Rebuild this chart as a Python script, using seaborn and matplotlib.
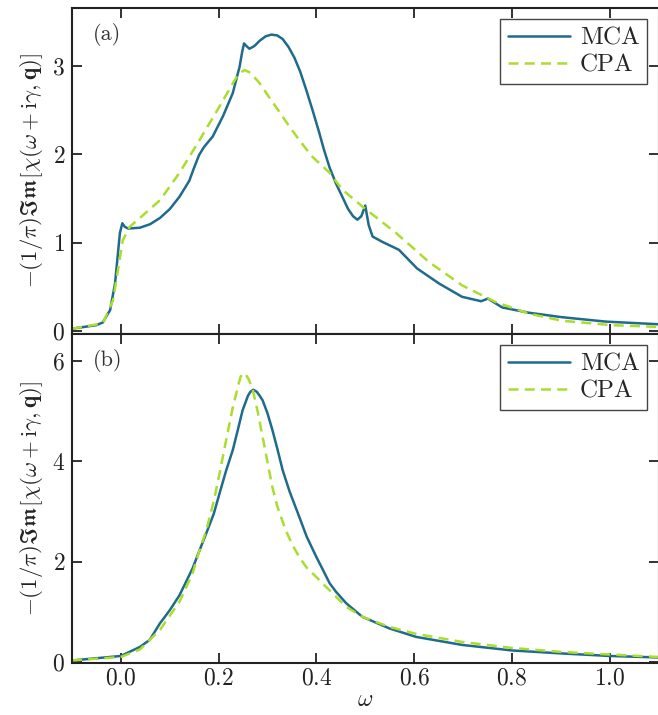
import numpy as np
import pandas as pd
import matplotlib
matplotlib.use("Agg")
import matplotlib.pyplot as plt
import seaborn as sns

# ---- data ----
omega_a_mca = [-0.1, -0.05, -0.037, -0.022, -0.012, -0.006, -0.002, 0.003, 0.008, 0.015, 0.039,
               0.06, 0.08, 0.1, 0.12, 0.14, 0.15, 0.16, 0.17, 0.188, 0.209, 0.229, 0.243, 0.248,
               0.252, 0.257, 0.263, 0.273, 0.284, 0.296, 0.308, 0.32, 0.331, 0.343, 0.355,
               0.367, 0.379, 0.392, 0.406, 0.415, 0.427, 0.44, 0.453, 0.465, 0.475, 0.484,
               0.492, 0.5, 0.507, 0.515, 0.535, 0.569, 0.606, 0.651, 0.698, 0.737, 0.751,
               0.78, 0.835, 0.902, 0.992, 1.1]
chi_a_mca = [0.03, 0.07, 0.10, 0.24, 0.54, 0.88, 1.11, 1.22, 1.18, 1.16, 1.17,
             1.21, 1.28, 1.38, 1.52, 1.70, 1.85, 1.99, 2.08, 2.2, 2.43, 2.69, 2.99, 3.15,
             3.25, 3.22, 3.19, 3.22, 3.28, 3.33, 3.35, 3.34, 3.30, 3.21, 3.09,
             2.93, 2.73, 2.50, 2.24, 2.06, 1.85, 1.67, 1.52, 1.38, 1.30, 1.26,
             1.30, 1.42, 1.20, 1.07, 1.01, 0.92, 0.71, 0.54, 0.39, 0.34, 0.37,
             0.27, 0.21, 0.16, 0.11, 0.08]

omega_a_cpa = [-0.1, -0.037, -0.016, -0.006, 0.004, 0.018, 0.039, 0.08, 0.12, 0.161, 0.202,
               0.229, 0.24, 0.253, 0.265, 0.284, 0.3, 0.324, 0.345, 0.365, 0.39, 0.427, 0.453,
               0.494, 0.563, 0.631, 0.698, 0.767, 0.835, 0.902, 1.004, 1.1]
chi_a_cpa = [0.03, 0.09, 0.35, 0.69, 1.03, 1.18, 1.28, 1.48, 1.79, 2.16, 2.54,
             2.80, 2.90, 2.95, 2.92, 2.80, 2.67, 2.48, 2.31, 2.16, 1.98, 1.79, 1.60,
             1.41, 1.11, 0.78, 0.52, 0.33, 0.20, 0.12, 0.07, 0.05]

omega_b_mca = [-0.1, 0.0, 0.039, 0.059, 0.08, 0.1, 0.12, 0.147, 0.16, 0.175, 0.19, 0.202,
               0.215, 0.229, 0.24, 0.249, 0.26, 0.265, 0.271, 0.278, 0.284, 0.29, 0.3,
               0.31, 0.32, 0.331, 0.345, 0.365, 0.38, 0.4, 0.41, 0.427, 0.44, 0.461, 0.494,
               0.549, 0.604, 0.698, 0.8, 0.902, 1.0, 1.1]
chi_b_mca = [0.03, 0.12, 0.30, 0.44, 0.77, 1.03, 1.33, 1.87, 2.2, 2.57, 2.95, 3.36,
             3.8, 4.22, 4.65, 5.01, 5.3, 5.38, 5.42, 5.38, 5.3, 5.21, 4.95,
             4.62, 4.25, 3.82, 3.4, 2.89, 2.5, 2.09, 1.9, 1.57, 1.4, 1.17, 0.90,
             0.67, 0.50, 0.34, 0.23, 0.17, 0.12, 0.09]

omega_b_cpa = [-0.1, 0.0, 0.039, 0.08, 0.12, 0.147, 0.16, 0.175, 0.19, 0.202, 0.215, 0.229,
               0.24, 0.245, 0.25, 0.255, 0.262, 0.27, 0.28, 0.29, 0.3, 0.31, 0.32, 0.337,
               0.35, 0.365, 0.38, 0.4, 0.415, 0.427, 0.44, 0.461, 0.494, 0.549, 0.604,
               0.698, 0.8, 0.902, 1.0, 1.1]
chi_b_cpa = [0.03, 0.10, 0.25, 0.64, 1.20, 1.77, 2.2, 2.63, 3.2, 3.76, 4.4, 5.07,
             5.5, 5.68, 5.75, 5.73, 5.62, 5.41, 4.98, 4.48, 3.98, 3.48, 3.1, 2.63,
             2.35, 2.09, 1.88, 1.69, 1.54, 1.43, 1.3, 1.10, 0.90, 0.70, 0.56,
             0.40, 0.28, 0.20, 0.15, 0.10]

series_labels = ["MCA", "CPA"]
panel_labels = ["(a)", "(b)"]
xticks = [0.0, 0.2, 0.4, 0.6, 0.8, 1.0]
yticks_a = [0, 1, 2, 3]
yticks_b = [0, 2, 4, 6]

# ---- style ----
sns.set_theme(style="ticks")
plt.rcParams["font.family"] = ["cmr10", "DejaVu Serif"]
plt.rcParams["mathtext.fontset"] = "cm"
plt.rcParams["axes.formatter.use_mathtext"] = True
plt.rcParams["axes.unicode_minus"] = False

c_mca = "#1f6b8b"
c_cpa = "#aadd2e"

fig = plt.figure(figsize=(6.58, 7.15), dpi=100)
left, right = 72 / 658, 658.5 / 658
top, mid, bot = 1 - 8 / 715, 1 - 334 / 715, 1 - 663 / 715
ax_a = fig.add_axes([left, mid, right - left, top - mid])
ax_b = fig.add_axes([left, bot, right - left, mid - bot])

ylabel = r"$-(1/\pi)\mathfrak{Im}[\chi(\omega+\mathrm{i}\gamma,\mathbf{q})]$"

def draw(ax, om_m, y_m, om_c, y_c, ylim, yticks, label):
    dm = pd.DataFrame({"omega": om_m, "chi": y_m})
    dc = pd.DataFrame({"omega": om_c, "chi": y_c})
    sns.lineplot(data=dm, x="omega", y="chi", ax=ax, color=c_mca, lw=1.8,
                 label=series_labels[0], sort=False)
    sns.lineplot(data=dc, x="omega", y="chi", ax=ax, color=c_cpa, lw=1.8,
                 linestyle=(0, (4, 2.5)), label=series_labels[1], sort=False)
    ax.set_xlim(-0.1, 1.1)
    ax.set_ylim(*ylim)
    ax.set_xticks(xticks)
    ax.set_yticks(yticks)
    ax.tick_params(direction="in", top=True, right=True, length=7, width=1.3,
                   labelsize=17, colors="#222222", pad=5)
    for s in ax.spines.values():
        s.set_linewidth(1.5)
        s.set_color("#222222")
    ax.set_ylabel(ylabel, fontsize=16.5, color="#222222", labelpad=5)
    ax.text(0.035, 0.955, label, transform=ax.transAxes, fontsize=16,
            va="top", ha="left", color="#333333")
    leg = ax.legend(loc="upper right", fontsize=18, frameon=True, fancybox=False,
                    handlelength=2.5, borderpad=0.3, labelspacing=0.2,
                    handletextpad=0.4, borderaxespad=0.45)
    leg.get_frame().set_edgecolor("#444444")
    leg.get_frame().set_linewidth(1.0)
    leg.get_frame().set_alpha(1.0)

draw(ax_a, omega_a_mca, chi_a_mca, omega_a_cpa, chi_a_cpa, (-0.03, 3.65), yticks_a, panel_labels[0])
draw(ax_b, omega_b_mca, chi_b_mca, omega_b_cpa, chi_b_cpa, (-0.02, 6.53), yticks_b, panel_labels[1])

ax_a.tick_params(labelbottom=False)
ax_a.set_xlabel("")
ax_b.tick_params(axis="x", pad=3)
ax_b.set_xlabel(r"$\omega$", fontsize=17, color="#222222", labelpad=0)

fig.savefig("out.png", dpi=100)
